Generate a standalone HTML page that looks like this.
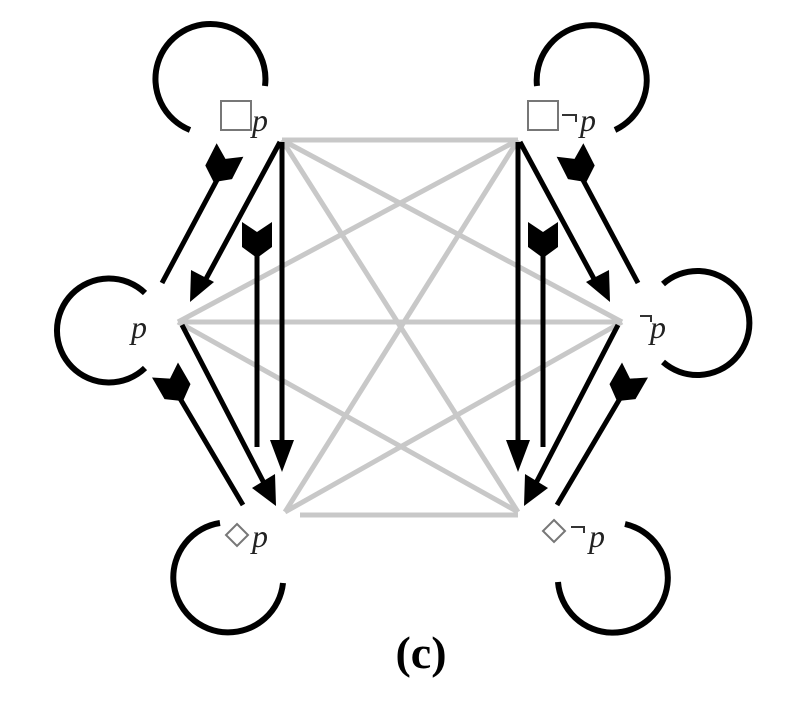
<!DOCTYPE html>
<html><head><meta charset="utf-8"><style>
html,body{margin:0;padding:0;background:#fff;width:802px;height:704px;overflow:hidden}
text{font-family:"Liberation Serif",serif}
</style></head><body>
<svg width="802" height="704" viewBox="0 0 802 704" xmlns="http://www.w3.org/2000/svg">
<defs>
<polygon id="fl" points="0,-15 10,0 0,15 25,15 36,0 25,-15" fill="#000"/>
</defs>
<g stroke="#c8c8c8" stroke-width="5" fill="none">
<line x1="282" y1="140" x2="518" y2="140"/>
<line x1="282" y1="140" x2="622" y2="322"/>
<line x1="282" y1="140" x2="518" y2="512"/>
<line x1="518" y1="140" x2="178" y2="322"/>
<line x1="518" y1="140" x2="285" y2="512"/>
<line x1="178" y1="322" x2="622" y2="322"/>
<line x1="178" y1="322" x2="518" y2="512"/>
<line x1="622" y1="322" x2="285" y2="512"/>
<line x1="300" y1="515" x2="518" y2="515"/>
</g>
<g stroke="#000" stroke-width="6" fill="none" stroke-linecap="butt">
<path d="M190,130 A55,55 0 1 1 265,86"/>
<path d="M145,293 A52,52 0 1 0 145,368"/>
<path d="M220,523 A55,55 0 1 0 283,583"/>
<path d="M537,86 A55,55 0 1 1 615,130"/>
<path d="M663,284 A52,52 0 1 1 663,362"/>
<path d="M625,524 A55,55 0 1 1 558,582"/>
</g>
<g>
<g stroke="#000" stroke-width="5" fill="none">
<line x1="280" y1="142" x2="200" y2="290"/>
<line x1="225" y1="165" x2="162" y2="283"/>
<line x1="282" y1="142" x2="282" y2="450"/>
<line x1="257" y1="240" x2="257" y2="447"/>
<line x1="182" y1="325" x2="265" y2="485"/>
<line x1="175" y1="390" x2="243" y2="505"/>
</g>
<polygon points="190,302 191,270 214,282" fill="#000"/>
<polygon points="282,472 270,440 294,440" fill="#000"/>
<polygon points="276,506 252,488 275,474" fill="#000"/>
<use href="#fl" transform="translate(230,150) rotate(117)"/>
<use href="#fl" transform="translate(257,222) rotate(90)"/>
<use href="#fl" transform="translate(165,370) rotate(60)"/>
</g>
<g transform="translate(800,0) scale(-1,1)">
<g stroke="#000" stroke-width="5" fill="none">
<line x1="280" y1="142" x2="200" y2="290"/>
<line x1="225" y1="165" x2="162" y2="283"/>
<line x1="282" y1="142" x2="282" y2="450"/>
<line x1="257" y1="240" x2="257" y2="447"/>
<line x1="182" y1="325" x2="265" y2="485"/>
<line x1="175" y1="390" x2="243" y2="505"/>
</g>
<polygon points="190,302 191,270 214,282" fill="#000"/>
<polygon points="282,472 270,440 294,440" fill="#000"/>
<polygon points="276,506 252,488 275,474" fill="#000"/>
<use href="#fl" transform="translate(230,150) rotate(117)"/>
<use href="#fl" transform="translate(257,222) rotate(90)"/>
<use href="#fl" transform="translate(165,370) rotate(60)"/>
</g>
<g fill="none" stroke="#777" stroke-width="2">
<rect x="221" y="101" width="30" height="29"/>
<rect x="528" y="101" width="30" height="29"/>
<path d="M237,524 L248,535 L237,546 L226,535 Z"/>
<path d="M554,520 L565,531 L554,542 L543,531 Z"/>
</g>
<g font-style="italic" font-size="32" fill="#222">
<text x="252" y="131">p</text>
<text x="580" y="131">p</text>
<text x="131" y="338">p</text>
<text x="650" y="338">p</text>
<text x="252" y="547">p</text>
<text x="589" y="547">p</text>
</g>
<g stroke="#333" stroke-width="2" fill="none">
<path d="M562,115 H576 V122"/>
<path d="M640,316 H651 V322"/>
<path d="M571,527 H584 V533"/>
</g>
<text x="421" y="668" font-size="46" font-weight="bold" text-anchor="middle" fill="#000">(c)</text>
</svg>
</body></html>
